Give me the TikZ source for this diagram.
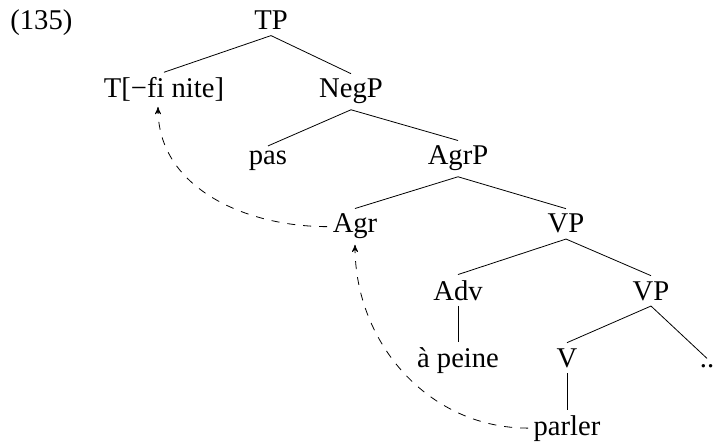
\documentclass[tikz,border=0pt]{standalone}
\usepackage{fontspec}
\setmainfont{Liberation Serif}
\usetikzlibrary{arrows}

\tikzset{
  cat/.style={anchor=base, inner sep=2.6pt, font=\fontsize{14.3}{17}\selectfont},
  move/.style={black, dash pattern=on 4pt off 4pt, ->, >=stealth'}
}

\begin{document}
\begin{tikzpicture}[x=0.5pt, y=0.5pt]
\useasboundingbox (0,0) rectangle (717,-443);
\node[cat, anchor=base west, inner sep=0pt] (ex) at (10,-30) {(135)};
\node[cat] (TP) at (271,-30) {TP};
\node[cat] (T) at (164,-98) {T[−fi nite]};
\node[cat] (NegP) at (351,-98) {NegP};
\node[cat] (pas) at (268,-165) {pas};
\node[cat] (AgrP) at (458,-165) {AgrP};
\node[cat] (Agr) at (355,-233) {Agr};
\node[cat] (VP) at (566,-233) {VP};
\node[cat] (Adv) at (458,-300) {Adv};
\node[cat] (VPb) at (651,-300) {VP};
\node[cat] (apeine) at (458,-367) {à peine};
\node[cat] (V) at (567,-367) {V};
\node[cat] (dots) at (707,-367) {..};
\node[cat] (parler) at (567,-435) {parler};
\coordinate (fi) at (158,-107);
% branches
\draw (TP.south) -- (T.north);
\draw (TP.south) -- (NegP.north);
\draw (NegP.south) -- (pas.north);
\draw (NegP.south) -- (AgrP.north);
\draw (AgrP.south) -- (Agr.north);
\draw (AgrP.south) -- (VP.north);
\draw (VP.south) -- (Adv.north);
\draw (VP.south) -- (VPb.north);
\draw (Adv.south) -- (apeine.north);
\draw (VPb.south) -- (V.north);
\draw (VPb.south) -- (dots.north);
\draw (V.south) -- (parler.north);
% movement
\draw[move] (Agr.west) to[out=180, in=-90] (fi);
\draw[move] (parler.west) to[out=180, in=-90] (Agr.south);
\end{tikzpicture}
\end{document}
